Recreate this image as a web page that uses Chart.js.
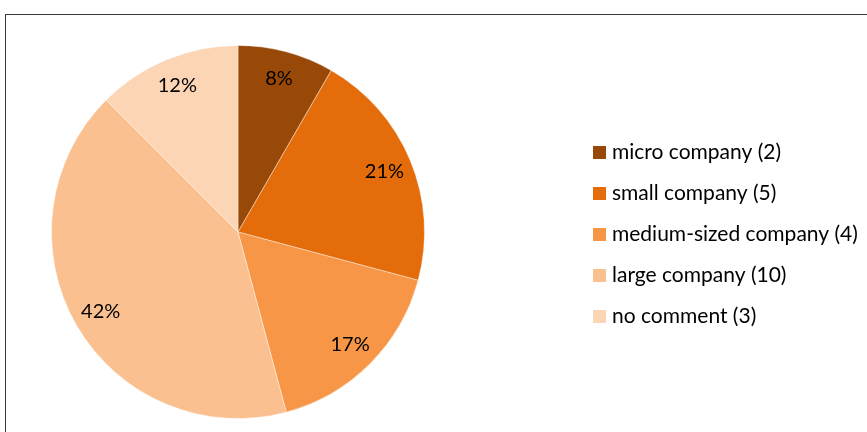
<!DOCTYPE html>
<html>
<head>
<meta charset="utf-8">
<script src="https://cdn.jsdelivr.net/npm/chart.js@4"></script>
<style>
  html, body { margin: 0; padding: 0; background: #fff; }
  #wrap { position: relative; width: 867px; height: 432px; }
</style>
</head>
<body>
<div id="wrap"><canvas id="piechart" width="867" height="432"></canvas></div>
<script>
// company size of respondents
const sizes = ['micro company', 'small company', 'medium-sized company', 'large company', 'no comment'];
const counts = [2, 5, 4, 10, 3];
const percentLabels = ['8%', '21%', '17%', '42%', '12%'];
const colors = ['#984807', '#E46C0A', '#F79646', '#FAC090', '#FCD5B5'];

const FONT = 'Lato, "Open Sans", sans-serif';

// outer frame around the chart
const framePlugin = {
    id: 'frame',
    beforeDraw(chart) {
        const ctx = chart.ctx;
        ctx.save();
        ctx.strokeStyle = '#3a3a3a';
        ctx.lineWidth = 1;
        ctx.strokeRect(5.5, 14.5, 1000, 1000);
        ctx.restore();
    }
};

// percentage text inside each slice
const sliceLabels = {
    id: 'sliceLabels',
    afterDatasetsDraw(chart) {
        const ctx = chart.ctx;
        const meta = chart.getDatasetMeta(0);
        ctx.save();
        ctx.fillStyle = '#000';
        ctx.font = '20px ' + FONT;
        ctx.textAlign = 'center';
        ctx.textBaseline = 'middle';
        meta.data.forEach((arc, i) => {
            const p = arc.getProps(['x', 'y', 'startAngle', 'endAngle', 'outerRadius']);
            const mid = (p.startAngle + p.endAngle) / 2;
            const r = p.outerRadius * 0.85;
            ctx.fillText(percentLabels[i], p.x + Math.cos(mid) * r, p.y + Math.sin(mid) * r);
        });
        ctx.restore();
    }
};

// legend on the right, with counts
const sideLegend = {
    id: 'sideLegend',
    afterDraw(chart) {
        const ctx = chart.ctx;
        ctx.save();
        ctx.font = '21px ' + FONT;
        ctx.textBaseline = 'middle';
        sizes.forEach((name, i) => {
            const y = 152 + i * 41;
            ctx.fillStyle = colors[i];
            ctx.fillRect(593, y - 6, 13, 13);
            ctx.fillStyle = '#000';
            ctx.fillText(name + ' (' + counts[i] + ')', 612, y);
        });
        ctx.restore();
    }
};

new Chart(document.getElementById('piechart'), {
    type: 'pie',
    data: {
        labels: sizes,
        datasets: [{
            data: counts,
            backgroundColor: colors,
            borderColor: 'rgba(255,255,255,0.4)',
            borderWidth: 1
        }]
    },
    options: {
        responsive: false,
        animation: false,
        layout: { padding: { left: 51, right: 442, top: 45, bottom: 13 } },
        plugins: {
            legend: { display: false },
            tooltip: { enabled: false }
        }
    },
    plugins: [framePlugin, sliceLabels, sideLegend]
});
</script>
</body>
</html>
